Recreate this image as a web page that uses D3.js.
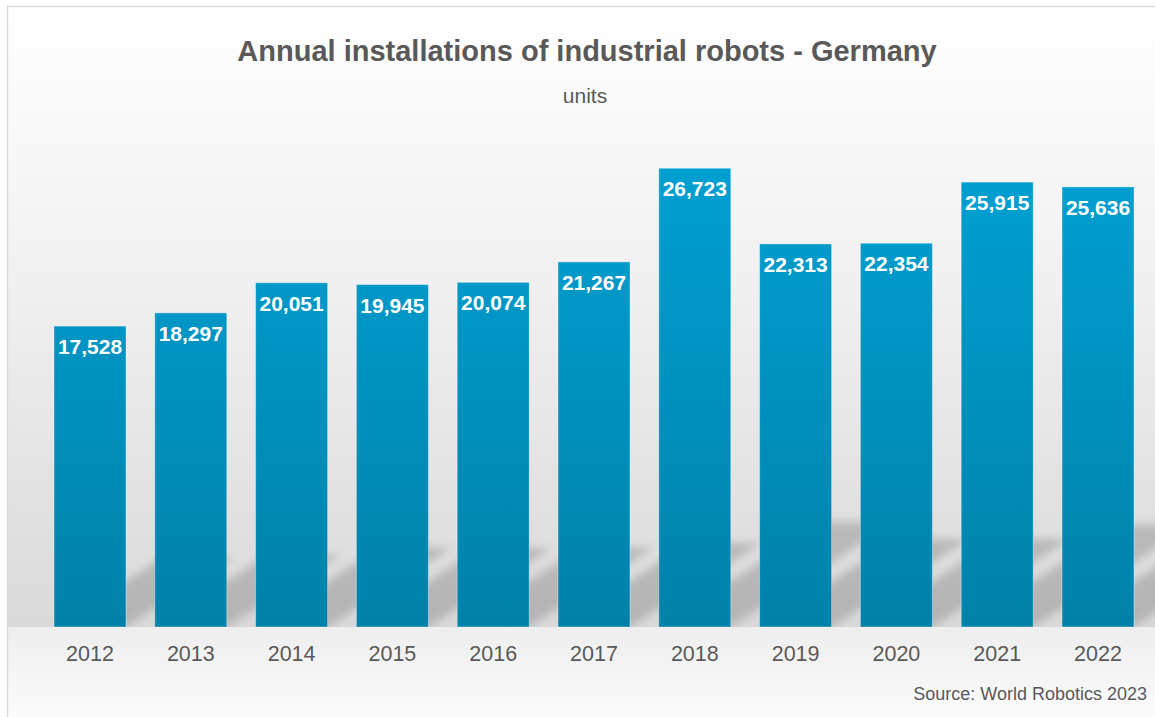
<!DOCTYPE html>
<html>
<head>
<meta charset="utf-8">
<script src="https://cdn.jsdelivr.net/npm/d3@7"></script>
<style>
  body { margin: 0; background: #fff; }
  text { font-family: "Liberation Sans", Arial, sans-serif; }
</style>
</head>
<body>
<div id="chart"></div>
<script>
// chart data
const years = ["2012", "2013", "2014", "2015", "2016", "2017", "2018", "2019", "2020", "2021", "2022"];
const installations = [17528, 18297, 20051, 19945, 20074, 21267, 26723, 22313, 22354, 25915, 25636];
const titleText = "Annual installations of industrial robots - Germany";
const unitText = "units";
const sourceText = "Source: World Robotics 2023";

const W = 1155, H = 717;
const base = 627;   // floor line

const svg = d3.select("#chart")
    .append("svg")
    .attr("width", W)
    .attr("height", H);

const defs = svg.append("defs");

// wall + floor gradients
const wall = defs.append("linearGradient")
    .attr("id", "wall").attr("x1", 0).attr("y1", 0).attr("x2", 0).attr("y2", 1);
wall.append("stop").attr("offset", "0%").attr("stop-color", "#ffffff");
wall.append("stop").attr("offset", "45%").attr("stop-color", "#f0f0f0");
wall.append("stop").attr("offset", "100%").attr("stop-color", "#d9d9d9");

const floor = defs.append("linearGradient")
    .attr("id", "floor").attr("x1", 0).attr("y1", 0).attr("x2", 0).attr("y2", 1);
floor.append("stop").attr("offset", "0%").attr("stop-color", "#eeeeee");
floor.append("stop").attr("offset", "100%").attr("stop-color", "#fbfbfb");

// bar gradient (top bright blue -> darker teal blue)
const barGrad = defs.append("linearGradient")
    .attr("id", "barGrad")
    .attr("gradientUnits", "userSpaceOnUse")
    .attr("x1", 0).attr("y1", 160).attr("x2", 0).attr("y2", base);
barGrad.append("stop").attr("offset", "0%").attr("stop-color", "#00a0d2");
barGrad.append("stop").attr("offset", "100%").attr("stop-color", "#0081a9");

defs.append("filter")
    .attr("id", "blur")
    .attr("x", "-30%").attr("y", "-30%").attr("width", "160%").attr("height", "160%")
    .append("feGaussianBlur").attr("stdDeviation", 4);

defs.append("clipPath").attr("id", "wallClip")
    .append("rect").attr("x", 8).attr("y", 7).attr("width", W).attr("height", base - 7);

// background
svg.append("rect")
    .attr("x", 7.5).attr("y", 6.5)
    .attr("width", W).attr("height", base - 6.5)
    .attr("fill", "url(#wall)");
svg.append("rect")
    .attr("x", 7.5).attr("y", base)
    .attr("width", W).attr("height", H - base)
    .attr("fill", "url(#floor)");
svg.append("rect")
    .attr("x", 7.5).attr("y", 6.5)
    .attr("width", W + 10).attr("height", H + 10)
    .attr("fill", "none")
    .attr("stroke", "#d9d9d9")
    .attr("stroke-width", 1.5);

// scales
const x = d3.scaleBand()
    .domain(years)
    .range([39.6, 1148.4])
    .paddingInner(0.286)
    .paddingOuter(0.143);

const y = d3.scaleLinear()
    .domain([0, 30000])
    .range([base, 112]);

// perspective shadows going to the upper right
svg.append("g")
    .attr("clip-path", "url(#wallClip)")
    .selectAll("polygon")
    .data(years)
    .join("polygon")
    .attr("points", (d, i) => {
        const h = base - y(installations[i]);
        const hs = 0.23 * h, dx = 0.36 * h;
        const x0 = x(d), x1 = x(d) + x.bandwidth();
        return [[x0, base], [x1, base], [x1 + dx, base - hs], [x0 + dx, base - hs]].join(" ");
    })
    .attr("fill", "#000")
    .attr("fill-opacity", 0.17)
    .attr("filter", "url(#blur)");

// bars
svg.append("g")
    .selectAll("rect")
    .data(years)
    .join("rect")
    .attr("x", d => x(d))
    .attr("y", (d, i) => y(installations[i]))
    .attr("width", x.bandwidth())
    .attr("height", (d, i) => base - y(installations[i]))
    .attr("fill", "url(#barGrad)")
    .attr("stroke", "rgba(255,255,255,0.35)")
    .attr("stroke-width", 1);

// value labels
svg.append("g")
    .selectAll("text")
    .data(years)
    .join("text")
    .attr("x", d => x(d) + x.bandwidth() / 2)
    .attr("y", (d, i) => y(installations[i]) + 28)
    .attr("text-anchor", "middle")
    .attr("font-size", 21)
    .attr("font-weight", "bold")
    .attr("fill", "#ffffff")
    .text((d, i) => d3.format(",")(installations[i]));

// x axis (labels only)
const xAxis = svg.append("g")
    .attr("transform", `translate(0,${base})`)
    .call(d3.axisBottom(x).tickSize(0).tickPadding(34));
xAxis.select(".domain").remove();
xAxis.selectAll("text")
    .attr("dy", 0)
    .attr("font-size", 21.5)
    .attr("font-family", "Liberation Sans, Arial, sans-serif")
    .attr("fill", "#595959");

// titles
svg.append("text")
    .attr("x", 587).attr("y", 61)
    .attr("text-anchor", "middle")
    .attr("font-size", 29)
    .attr("font-weight", "bold")
    .attr("fill", "#595959")
    .text(titleText);

svg.append("text")
    .attr("x", 585).attr("y", 103)
    .attr("text-anchor", "middle")
    .attr("font-size", 21)
    .attr("fill", "#595959")
    .text(unitText);

svg.append("text")
    .attr("x", 1147).attr("y", 700)
    .attr("text-anchor", "end")
    .attr("font-size", 18)
    .attr("fill", "#595959")
    .text(sourceText);
</script>
</body>
</html>
